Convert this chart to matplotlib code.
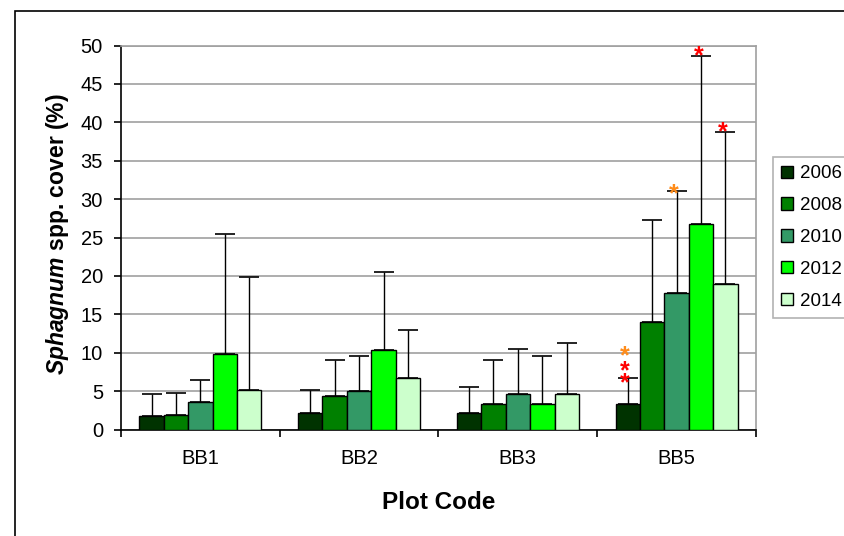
import numpy as np
import matplotlib.pyplot as plt
from matplotlib.patches import Rectangle

plt.rcParams['font.family'] = ['Liberation Sans', 'DejaVu Sans']
plt.rcParams['mathtext.fontset'] = 'custom'
plt.rcParams['mathtext.bfit'] = 'Liberation Sans:italic:bold'
plt.rcParams['mathtext.rm'] = 'Liberation Sans'

plots = ['BB1', 'BB2', 'BB3', 'BB5']
years = ['2006', '2008', '2010', '2012', '2014']
colors = ['#003300', '#008000', '#339966', '#00FF00', '#CCFFCC']

# mean cover per year, one list per year across plots
cover_2006 = [1.7, 2.1, 2.1, 3.3]
cover_2008 = [1.9, 4.4, 3.3, 14.0]
cover_2010 = [3.6, 5.0, 4.6, 17.8]
cover_2012 = [9.8, 10.4, 3.3, 26.7]
cover_2014 = [5.2, 6.7, 4.6, 19.0]
# upper end of error bar
top_2006 = [4.6, 5.2, 5.5, 6.7]
top_2008 = [4.8, 9.0, 9.0, 27.3]
top_2010 = [6.5, 9.6, 10.5, 31.1]
top_2012 = [25.5, 20.5, 9.6, 48.6]
top_2014 = [19.8, 13.0, 11.3, 38.8]

means = [cover_2006, cover_2008, cover_2010, cover_2012, cover_2014]
tops = [top_2006, top_2008, top_2010, top_2012, top_2014]

# significance stars: plot index, year index, colours (bottom to top), offsets in pt
ORANGE = '#FF8C1A'
stars = [(3, 0, ['red', 'red', ORANGE], [-8.6, -0.4, 10.7]),
         (3, 2, [ORANGE], [-7.8]),
         (3, 3, ['red'], [-4.9]),
         (3, 4, ['red'], [-5.6])]

fig = plt.figure(figsize=(8.45, 5.36), dpi=100)
fig.patches.append(Rectangle((15/845, -0.1), 1.2, 1.1 - 11/536, transform=fig.transFigure,
                             fill=False, edgecolor='black', linewidth=1.2, zorder=0))
ax = fig.add_axes([121/845, 1 - 429.5/536, 635/845, 384/536])

x = np.arange(len(plots))
w = 1 / 6.5
for i in range(len(years)):
    pos = x + (i - 2) * w
    err = np.array(tops[i]) - np.array(means[i])
    ax.bar(pos, means[i], w, color=colors[i], edgecolor='black', linewidth=1.0,
           label=years[i], zorder=3)
    ax.errorbar(pos, means[i], yerr=[np.zeros(len(plots)), err], fmt='none',
                ecolor='black', elinewidth=1.0, capsize=7.5, capthick=1.2, zorder=4)

for p, yi, cols, offs in stars:
    xs = x[p] + (yi - 2) * w
    ys = tops[yi][p]
    for c, o in zip(cols, offs):
        ax.annotate('*', (xs, ys), xytext=(-2, o), textcoords='offset points',
                    ha='center', va='baseline', color=c, fontsize=18,
                    fontweight='bold', zorder=5)

ax.set_xlim(-0.5, 3.5)
ax.set_ylim(0, 50)
ax.set_yticks(np.arange(0, 51, 5))
ax.set_xticks(x)
ax.set_xticklabels(plots)
ax.set_xticks(np.arange(-0.5, 4, 1), minor=True)
ax.tick_params(axis='x', which='major', length=0, pad=14, labelsize=14.5)
ax.tick_params(axis='x', which='minor', length=5, width=1.2, direction='out')
ax.tick_params(axis='y', length=5, width=1.2, direction='out', labelsize=14.5, pad=8)
ax.yaxis.grid(True, color='#a0a0a0', linewidth=1.2, zorder=0)
ax.set_axisbelow(True)
for s in ['top', 'right']:
    ax.spines[s].set_color('#a0a0a0')
    ax.spines[s].set_linewidth(1.2)
for s in ['left', 'bottom']:
    ax.spines[s].set_linewidth(1.2)

ax.set_xlabel('Plot Code', fontsize=17.5, fontweight='bold')
ax.xaxis.set_label_coords(0.5, -0.16)
ax.set_ylabel(r'$\mathbfit{Sphagnum}$ spp. cover (%)', fontsize=16.5, fontweight='bold')
ax.yaxis.set_label_coords(-0.079, 0.51)

leg = fig.legend(loc='upper left', bbox_to_anchor=(773/845, 1 - 157/536), fontsize=13.5,
                 frameon=True, fancybox=False, edgecolor='#a0a0a0', handlelength=0.64,
                 handleheight=0.64, handletextpad=0.37, labelspacing=0.79, borderpad=0.45,
                 borderaxespad=0)
leg.get_frame().set_linewidth(1.2)

fig.savefig('out.png', dpi=100)
